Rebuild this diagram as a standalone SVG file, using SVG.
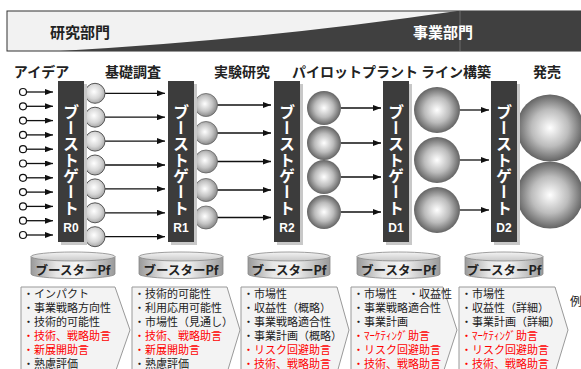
<svg xmlns="http://www.w3.org/2000/svg" width="581" height="369" viewBox="0 0 581 369">
<defs>
<style>
.jp{font-family:"Noto Sans CJK JP","Noto Sans",sans-serif}
.hdr{font-size:15px;font-weight:bold}
.stage{font-size:14px;font-weight:bold;fill:#222;text-anchor:middle}
.gate{fill:#3c3c3c}
.gshadow{fill:#c8c8c8}
.gtxt{font-size:16px;fill:#fff;writing-mode:vertical-rl;font-weight:bold}
.glbl{font-size:12px;fill:#fff;font-weight:bold;text-anchor:middle;font-family:"Liberation Sans",Arial,sans-serif}
.arr{stroke:#111;stroke-width:1.3;fill:none;marker-end:url(#ah)}
.idea{fill:#fff;stroke:#111;stroke-width:1.2}
.s1{fill:url(#gS);stroke:#555;stroke-width:1}
.s2{fill:url(#gM);stroke:#666;stroke-width:0.8}
.s3{fill:url(#gL)}
.cylTxt{font-size:12.5px;font-weight:bold;fill:#222;text-anchor:middle}
.box{fill:#f3f3f3;stroke:#999;stroke-width:1}
.it{font-size:11px;fill:#222}
.red{fill:#f00}
</style>
<marker id="ah" markerUnits="userSpaceOnUse" markerWidth="8" markerHeight="6" refX="8" refY="3" orient="auto">
<path d="M0,0 L8,3 L0,6 z" fill="#111"/>
</marker>
<radialGradient id="gS" cx="0.45" cy="0.42" r="0.6">
<stop offset="0" stop-color="#ffffff"/>
<stop offset="0.6" stop-color="#d6d6d6"/>
<stop offset="1" stop-color="#a4a4a4"/>
</radialGradient>
<radialGradient id="gM" cx="0.45" cy="0.45" r="0.6">
<stop offset="0" stop-color="#ffffff"/>
<stop offset="0.55" stop-color="#c4c4c4"/>
<stop offset="1" stop-color="#7c7c7c"/>
</radialGradient>
<radialGradient id="gL" cx="0.5" cy="0.5" r="0.55">
<stop offset="0" stop-color="#ffffff"/>
<stop offset="0.5" stop-color="#bcbcbc"/>
<stop offset="1" stop-color="#505050"/>
</radialGradient>
<linearGradient id="cylBody" x1="0" y1="0" x2="1" y2="0">
<stop offset="0" stop-color="#9a9a9a"/>
<stop offset="0.3" stop-color="#e6e6e6"/>
<stop offset="0.55" stop-color="#f6f6f6"/>
<stop offset="1" stop-color="#9a9a9a"/>
</linearGradient>
<linearGradient id="cylTop" x1="0" y1="0" x2="0" y2="1">
<stop offset="0" stop-color="#f4f4f4"/>
<stop offset="1" stop-color="#c8c8c8"/>
</linearGradient>
</defs>

<rect width="581" height="369" fill="#fff"/>

<g id="header">
<rect x="7" y="11" width="580" height="40" fill="#f2f2f2" stroke="#333" stroke-width="1"/>
<path d="M60,51 Q260,40 457,11 L581,11 L581,51 Z" fill="#404040"/>
<line x1="460" y1="11" x2="460" y2="51" stroke="#6a6a6a" stroke-width="1"/>
<text class="jp hdr" x="50" y="38" fill="#222">研究部門</text>
<text class="jp hdr" x="413" y="38" fill="#fff">事業部門</text>
</g>

<g id="stage-labels" class="jp">
<text class="stage" x="41.5" y="77">アイデア</text>
<text class="stage" x="133" y="77">基礎調査</text>
<text class="stage" x="242" y="77">実験研究</text>
<text class="stage" x="355" y="77">パイロットプラント</text>
<text class="stage" x="456" y="77">ライン構築</text>
<text class="stage" x="547" y="77">発売</text>
</g>

<g id="connectors">
<path class="arr" d="M26.5,92 H53"/><path class="arr" d="M26.5,106.3 H53"/><path class="arr" d="M26.5,120.6 H53"/><path class="arr" d="M26.5,134.9 H53"/><path class="arr" d="M26.5,149.2 H53"/><path class="arr" d="M26.5,163.5 H53"/><path class="arr" d="M26.5,177.8 H53"/><path class="arr" d="M26.5,192.1 H53"/><path class="arr" d="M26.5,206.4 H53"/><path class="arr" d="M26.5,220.7 H53"/><path class="arr" d="M26.5,235 H53"/>
<path class="arr" d="M105,93.3 H165"/><path class="arr" d="M105,117.2 H165"/><path class="arr" d="M105,141.1 H165"/><path class="arr" d="M105,165 H165"/><path class="arr" d="M105,188.9 H165"/><path class="arr" d="M105,212.8 H165"/><path class="arr" d="M105,236.7 H165"/>
<path class="arr" d="M217,105 H271"/><path class="arr" d="M217,133 H271"/><path class="arr" d="M217,161.5 H271"/><path class="arr" d="M217,190 H271"/><path class="arr" d="M217,217.5 H271"/>
<path class="arr" d="M341,108 H381"/><path class="arr" d="M341,143 H381"/><path class="arr" d="M341,177 H381"/><path class="arr" d="M341,212 H381"/>
<path class="arr" d="M460,110 H489"/><path class="arr" d="M460,160 H489"/><path class="arr" d="M460,210 H489"/>
</g>

<g id="ideas">
<circle class="idea" cx="23" cy="92" r="3.5"/><circle class="idea" cx="23" cy="106.3" r="3.5"/><circle class="idea" cx="23" cy="120.6" r="3.5"/><circle class="idea" cx="23" cy="134.9" r="3.5"/><circle class="idea" cx="23" cy="149.2" r="3.5"/><circle class="idea" cx="23" cy="163.5" r="3.5"/><circle class="idea" cx="23" cy="177.8" r="3.5"/><circle class="idea" cx="23" cy="192.1" r="3.5"/><circle class="idea" cx="23" cy="206.4" r="3.5"/><circle class="idea" cx="23" cy="220.7" r="3.5"/><circle class="idea" cx="23" cy="235" r="3.5"/>
</g>

<g id="basic-research">
<circle class="s1" cx="95" cy="93.3" r="10"/><circle class="s1" cx="95" cy="117.2" r="10"/><circle class="s1" cx="95" cy="141.1" r="10"/><circle class="s1" cx="95" cy="165" r="10"/><circle class="s1" cx="95" cy="188.9" r="10"/><circle class="s1" cx="95" cy="212.8" r="10"/><circle class="s1" cx="95" cy="236.7" r="10"/>
</g>

<g id="experimental">
<circle class="s2" cx="206" cy="105" r="11.5"/><circle class="s2" cx="206" cy="133" r="11.5"/><circle class="s2" cx="206" cy="161.5" r="11.5"/><circle class="s2" cx="206" cy="190" r="11.5"/><circle class="s2" cx="206" cy="217.5" r="11.5"/>
</g>

<g id="pilot">
<circle class="s3" cx="324" cy="108" r="17"/><circle class="s3" cx="324" cy="143" r="17"/><circle class="s3" cx="324" cy="177" r="17"/><circle class="s3" cx="324" cy="212" r="17"/>
</g>

<g id="line-build">
<circle class="s3" cx="437" cy="110" r="23"/><circle class="s3" cx="437" cy="160" r="23"/><circle class="s3" cx="437" cy="210" r="23"/>
</g>

<g id="launch">
<circle class="s3" cx="550" cy="128" r="33.5"/><circle class="s3" cx="550" cy="195" r="33.5"/>
</g>

<g id="gate-R0">
<rect class="gshadow" x="61" y="84" width="26" height="161"/>
<rect class="gate" x="58" y="81" width="26" height="161"/>
<text class="jp gtxt" x="71" y="104">ブーストゲート</text>
<text class="glbl" x="71" y="232">R0</text>
</g>
<g id="gate-R1">
<rect class="gshadow" x="171" y="84" width="26" height="161"/>
<rect class="gate" x="168" y="81" width="26" height="161"/>
<text class="jp gtxt" x="181" y="104">ブーストゲート</text>
<text class="glbl" x="181" y="232">R1</text>
</g>
<g id="gate-R2">
<rect class="gshadow" x="277" y="84" width="26" height="161"/>
<rect class="gate" x="274" y="81" width="26" height="161"/>
<text class="jp gtxt" x="287" y="104">ブーストゲート</text>
<text class="glbl" x="287" y="232">R2</text>
</g>
<g id="gate-D1">
<rect class="gshadow" x="386" y="84" width="26" height="161"/>
<rect class="gate" x="383" y="81" width="26" height="161"/>
<text class="jp gtxt" x="396" y="104">ブーストゲート</text>
<text class="glbl" x="396" y="232">D1</text>
</g>
<g id="gate-D2">
<rect class="gshadow" x="494" y="84" width="26" height="161"/>
<rect class="gate" x="491" y="81" width="26" height="161"/>
<text class="jp gtxt" x="504" y="104">ブーストゲート</text>
<text class="glbl" x="504" y="232">D2</text>
</g>

<g id="cyl-1">
<path d="M31,256.5 V274 A42,4.5 0 0 0 115,274 V256.5 Z" fill="url(#cylBody)" stroke="#888" stroke-width="0.8"/>
<ellipse cx="73" cy="256.5" rx="42" ry="4.5" fill="url(#cylTop)" stroke="#888" stroke-width="0.8"/>
<text class="jp cylTxt" x="73" y="275">ブースターPf</text>
</g>
<g id="cyl-2">
<path d="M139,256.5 V274 A42,4.5 0 0 0 223,274 V256.5 Z" fill="url(#cylBody)" stroke="#888" stroke-width="0.8"/>
<ellipse cx="181" cy="256.5" rx="42" ry="4.5" fill="url(#cylTop)" stroke="#888" stroke-width="0.8"/>
<text class="jp cylTxt" x="181" y="275">ブースターPf</text>
</g>
<g id="cyl-3">
<path d="M248,256.5 V274 A41,4.5 0 0 0 330,274 V256.5 Z" fill="url(#cylBody)" stroke="#888" stroke-width="0.8"/>
<ellipse cx="289" cy="256.5" rx="41" ry="4.5" fill="url(#cylTop)" stroke="#888" stroke-width="0.8"/>
<text class="jp cylTxt" x="289" y="275">ブースターPf</text>
</g>
<g id="cyl-4">
<path d="M357,256.5 V274 A41.5,4.5 0 0 0 440,274 V256.5 Z" fill="url(#cylBody)" stroke="#888" stroke-width="0.8"/>
<ellipse cx="398.5" cy="256.5" rx="41.5" ry="4.5" fill="url(#cylTop)" stroke="#888" stroke-width="0.8"/>
<text class="jp cylTxt" x="398.5" y="275">ブースターPf</text>
</g>
<g id="cyl-5">
<path d="M465,256.5 V274 A39,4.5 0 0 0 543,274 V256.5 Z" fill="url(#cylBody)" stroke="#888" stroke-width="0.8"/>
<ellipse cx="504" cy="256.5" rx="39" ry="4.5" fill="url(#cylTop)" stroke="#888" stroke-width="0.8"/>
<text class="jp cylTxt" x="504" y="275">ブースターPf</text>
</g>

<g id="box-1" class="jp">
<path class="box" d="M21,287 H115 L130,330 L115,373 H21 Z"/>
<text class="it" x="23" y="298">・インパクト</text>
<text class="it" x="23" y="312">・事業戦略方向性</text>
<text class="it" x="23" y="326">・技術的可能性</text>
<text class="it red" x="23" y="340">・技術、戦略助言</text>
<text class="it red" x="23" y="354">・新展開助言</text>
<text class="it" x="23" y="368">・熟慮評価</text>
</g>
<g id="box-2" class="jp">
<path class="box" d="M132,287 H227 L240,330 L227,373 H132 Z"/>
<text class="it" x="134" y="298">・技術的可能性</text>
<text class="it" x="134" y="312">・利用応用可能性</text>
<text class="it" x="134" y="326">・市場性（見通し）</text>
<text class="it red" x="134" y="340">・技術、戦略助言</text>
<text class="it red" x="134" y="354">・新展開助言</text>
<text class="it" x="134" y="368">・熟慮評価</text>
</g>
<g id="box-3" class="jp">
<path class="box" d="M241,287 H337 L349,330 L337,373 H241 Z"/>
<text class="it" x="243" y="298">・市場性</text>
<text class="it" x="243" y="312">・収益性（概略）</text>
<text class="it" x="243" y="326">・事業戦略適合性</text>
<text class="it" x="243" y="340">・事業計画（概略）</text>
<text class="it red" x="243" y="354">・リスク回避助言</text>
<text class="it red" x="243" y="368">・技術、戦略助言</text>
</g>
<g id="box-4" class="jp">
<path class="box" d="M351,287 H443 L457,330 L443,373 H351 Z"/>
<text class="it" x="353" y="298">・市場性　・収益性</text>
<text class="it" x="353" y="312">・事業戦略適合性</text>
<text class="it" x="353" y="326">・事業計画</text>
<text class="it red" x="353" y="340">・ﾏｰｹﾃｨﾝｸﾞ助言</text>
<text class="it red" x="353" y="354">・リスク回避助言</text>
<text class="it red" x="353" y="368">・技術、戦略助言</text>
</g>
<g id="box-5" class="jp">
<path class="box" d="M459,287 H555 L568,330 L555,373 H459 Z"/>
<text class="it" x="461" y="298">・市場性</text>
<text class="it" x="461" y="312">・収益性（詳細）</text>
<text class="it" x="461" y="326">・事業計画（詳細）</text>
<text class="it red" x="461" y="340">・ﾏｰｹﾃｨﾝｸﾞ助言</text>
<text class="it red" x="461" y="354">・リスク回避助言</text>
<text class="it red" x="461" y="368">・技術、戦略助言</text>
</g>

<text class="jp" x="570" y="306" font-size="12" fill="#222">例</text>
</svg>
